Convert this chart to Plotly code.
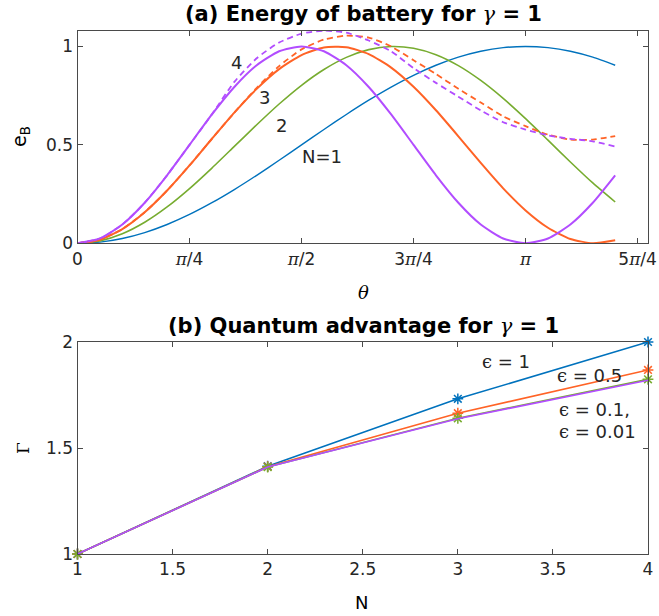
import math
import plotly.graph_objects as go

W, H = 659, 616

# ---- panel (a): battery energy vs theta (theta in units of pi) ----
theta_over_pi = [0.00, 0.05, 0.10, 0.15, 0.20, 0.25, 0.30, 0.35, 0.40, 0.45,
                 0.50, 0.55, 0.60, 0.65, 0.70, 0.75, 0.80, 0.85, 0.90, 0.95,
                 1.00, 1.05, 1.10, 1.15, 1.20]

e_n1 = [0.0, 0.0062, 0.0245, 0.0545, 0.0955, 0.1464, 0.2061, 0.2730, 0.3455, 0.4218,
        0.5, 0.5782, 0.6545, 0.7270, 0.7939, 0.8536, 0.9045, 0.9455, 0.9755, 0.9938,
        1.0, 0.9938, 0.9755, 0.9455, 0.9045]
e_n2 = [0.0, 0.0123, 0.0486, 0.1070, 0.1848, 0.2780, 0.3822, 0.4921, 0.6022, 0.7076,
        0.8028, 0.8830, 0.9444, 0.9840, 0.9998, 0.9910, 0.9581, 0.9025, 0.8272, 0.7362,
        0.6333, 0.5238, 0.4131, 0.3066, 0.2098]
e_n3 = [0.0, 0.0184, 0.0722, 0.1575, 0.2679, 0.3955, 0.5310, 0.6639, 0.7846, 0.8847,
        0.9563, 0.9945, 0.9962, 0.9614, 0.8927, 0.7951, 0.6757, 0.5436, 0.4081, 0.2793,
        0.1670, 0.0790, 0.0220, 0.0002, 0.0151]
e_n4 = [0.0, 0.0245, 0.0955, 0.2061, 0.3455, 0.5, 0.6545, 0.7939, 0.9045, 0.9755,
        1.0, 0.9755, 0.9045, 0.7939, 0.6545, 0.5, 0.3455, 0.2061, 0.0955, 0.0245,
        0.0, 0.0245, 0.0955, 0.2061, 0.3455]
e_n3_dash = [0.0, 0.0184, 0.0722, 0.158, 0.268, 0.396, 0.531, 0.664, 0.79, 0.90,
             0.985, 1.035, 1.055, 1.045, 1.0, 0.93, 0.86, 0.785, 0.715, 0.645,
             0.595, 0.552, 0.527, 0.527, 0.545]
e_n4_dash = [0.0, 0.0245, 0.0955, 0.206, 0.346, 0.5, 0.655, 0.82, 0.94, 1.02,
             1.065, 1.08, 1.07, 1.03, 0.975, 0.89, 0.815, 0.745, 0.675, 0.615,
             0.578, 0.548, 0.531, 0.518, 0.492]

theta_ticks = [0, 0.25, 0.5, 0.75, 1.0, 1.25]
PI = '<span style="font-family:DejaVu Serif"><i>π</i></span>'
theta_ticktext = ['0', PI + '/4', PI + '/2', '3' + PI + '/4', PI, '5' + PI + '/4']

# ---- panel (b): quantum advantage vs N ----
n_vals = [1, 2, 3, 4]
gamma_eps1 = [1.0, 1.414, 1.732, 2.0]
gamma_eps05 = [1.0, 1.412, 1.664, 1.868]
gamma_eps01 = [1.0, 1.41, 1.64, 1.824]
gamma_eps001 = [1.0, 1.41, 1.638, 1.82]

BLUE = '#0072BD'
ORANGE = '#FF6326'
GREEN = '#77AC30'
PURPLE = '#B24DFF'
AX = '#4a4a4a'
TXT = '#262626'
FONT = 'DejaVu Sans'

th = [t * math.pi for t in theta_over_pi]

fig = go.Figure()

def curve(y, color, width, dash='solid'):
    fig.add_trace(go.Scatter(x=th, y=y, mode='lines', xaxis='x', yaxis='y',
                             line=dict(color=color, width=width, dash=dash,
                                       shape='spline', smoothing=0.6),
                             showlegend=False, hoverinfo='skip'))

curve(e_n1, BLUE, 1.4)
curve(e_n2, GREEN, 1.6)
curve(e_n3, ORANGE, 2.0)
curve(e_n4, PURPLE, 2.0)
curve(e_n3_dash, ORANGE, 1.8, dash='6px,4px')
curve(e_n4_dash, PURPLE, 1.8, dash='6px,4px')

for g, c, mk in [(gamma_eps1, BLUE, True), (gamma_eps05, ORANGE, True),
                 (gamma_eps01, GREEN, True), (gamma_eps001, PURPLE, False)]:
    fig.add_trace(go.Scatter(
        x=n_vals, y=g, xaxis='x2', yaxis='y2',
        mode='lines+markers' if mk else 'lines',
        line=dict(color=c, width=1.6),
        marker=dict(symbol='asterisk-open', size=9, line=dict(width=1.5, color=c)),
        showlegend=False, hoverinfo='skip', cliponaxis=False))

xdom = [77.5 / W, 648 / W]
axis_common = dict(showline=True, linecolor=AX, linewidth=1, mirror='ticks',
                   ticks='inside', ticklen=5, tickcolor=AX, showgrid=False, zeroline=False,
                   automargin=False,
                   tickfont=dict(family=FONT, size=17, color=TXT))

fig.update_layout(
    width=W, height=H, margin=dict(l=0, r=0, t=0, b=0),
    paper_bgcolor='white', plot_bgcolor='white',
    xaxis=dict(domain=xdom, range=[0, 4], tickvals=[t * math.pi for t in theta_ticks],
               ticktext=theta_ticktext, anchor='y', **axis_common),
    yaxis=dict(domain=[1 - 243.3 / H, 1 - 30.7 / H], range=[0, 1.08],
               tickvals=[0, 0.5, 1], ticktext=['0', '0.5', '1'], anchor='x', **axis_common),
    xaxis2=dict(domain=xdom, range=[1, 4], tickvals=[1, 1.5, 2, 2.5, 3, 3.5, 4],
                ticktext=['1', '1.5', '2', '2.5', '3', '3.5', '4'], anchor='y2', **axis_common),
    yaxis2=dict(domain=[1 - 554 / H, 1 - 342 / H], range=[1, 2],
                tickvals=[1, 1.5, 2], ticktext=['1', '1.5', '2'], anchor='x2', **axis_common),
)

def px(x, y):
    return x / W, 1 - y / H

def paper_text(text, x, y, size, angle=0, family=FONT):
    fx, fy = px(x, y)
    fig.add_annotation(text=text, x=fx, y=fy, xref='paper', yref='paper', showarrow=False,
                       xanchor='center', yanchor='middle', textangle=angle,
                       font=dict(family=family, size=size, color='black'))

GAMMA = '<span style="font-family:DejaVu Serif"><i>γ</i></span>'
paper_text('<b>(a) Energy of battery for </b>' + GAMMA + '<b> = 1</b>', 363, 14, 21)
paper_text('<b>(b) Quantum advantage for </b>' + GAMMA + '<b> = 1</b>', 363, 326, 21)
paper_text('e<sub>B</sub>', 20, 137, 19, angle=-90)
paper_text('Γ', 23, 448, 17, angle=-90, family='DejaVu Serif')
paper_text('<i>θ</i>', 363, 292, 18, family='DejaVu Serif')
paper_text('N', 362, 602, 18)

def data_text(text, x, y, xr, yr, anchor='center', size=18):
    fig.add_annotation(text=text, x=x, y=y, xref=xr, yref=yr, showarrow=False,
                       xanchor=anchor, yanchor='middle',
                       font=dict(family=FONT, size=size, color=TXT))

data_text('4', 1.118, 0.92, 'x', 'y')
data_text('3', 1.308, 0.742, 'x', 'y')
data_text('2', 1.427, 0.599, 'x', 'y')
data_text('N=1', 1.715, 0.439, 'x', 'y')

EPS = '<span style="font-family:DejaVu Serif">ϵ</span>'
data_text(EPS + ' = 1', 3.117, 1.906, 'x2', 'y2', anchor='left')
data_text(EPS + ' = 0.5', 3.51, 1.84, 'x2', 'y2', anchor='left')
data_text(EPS + ' = 0.1,', 3.52, 1.68, 'x2', 'y2', anchor='left')
data_text(EPS + ' = 0.01', 3.52, 1.58, 'x2', 'y2', anchor='left')

fig.write_html('out.html')
